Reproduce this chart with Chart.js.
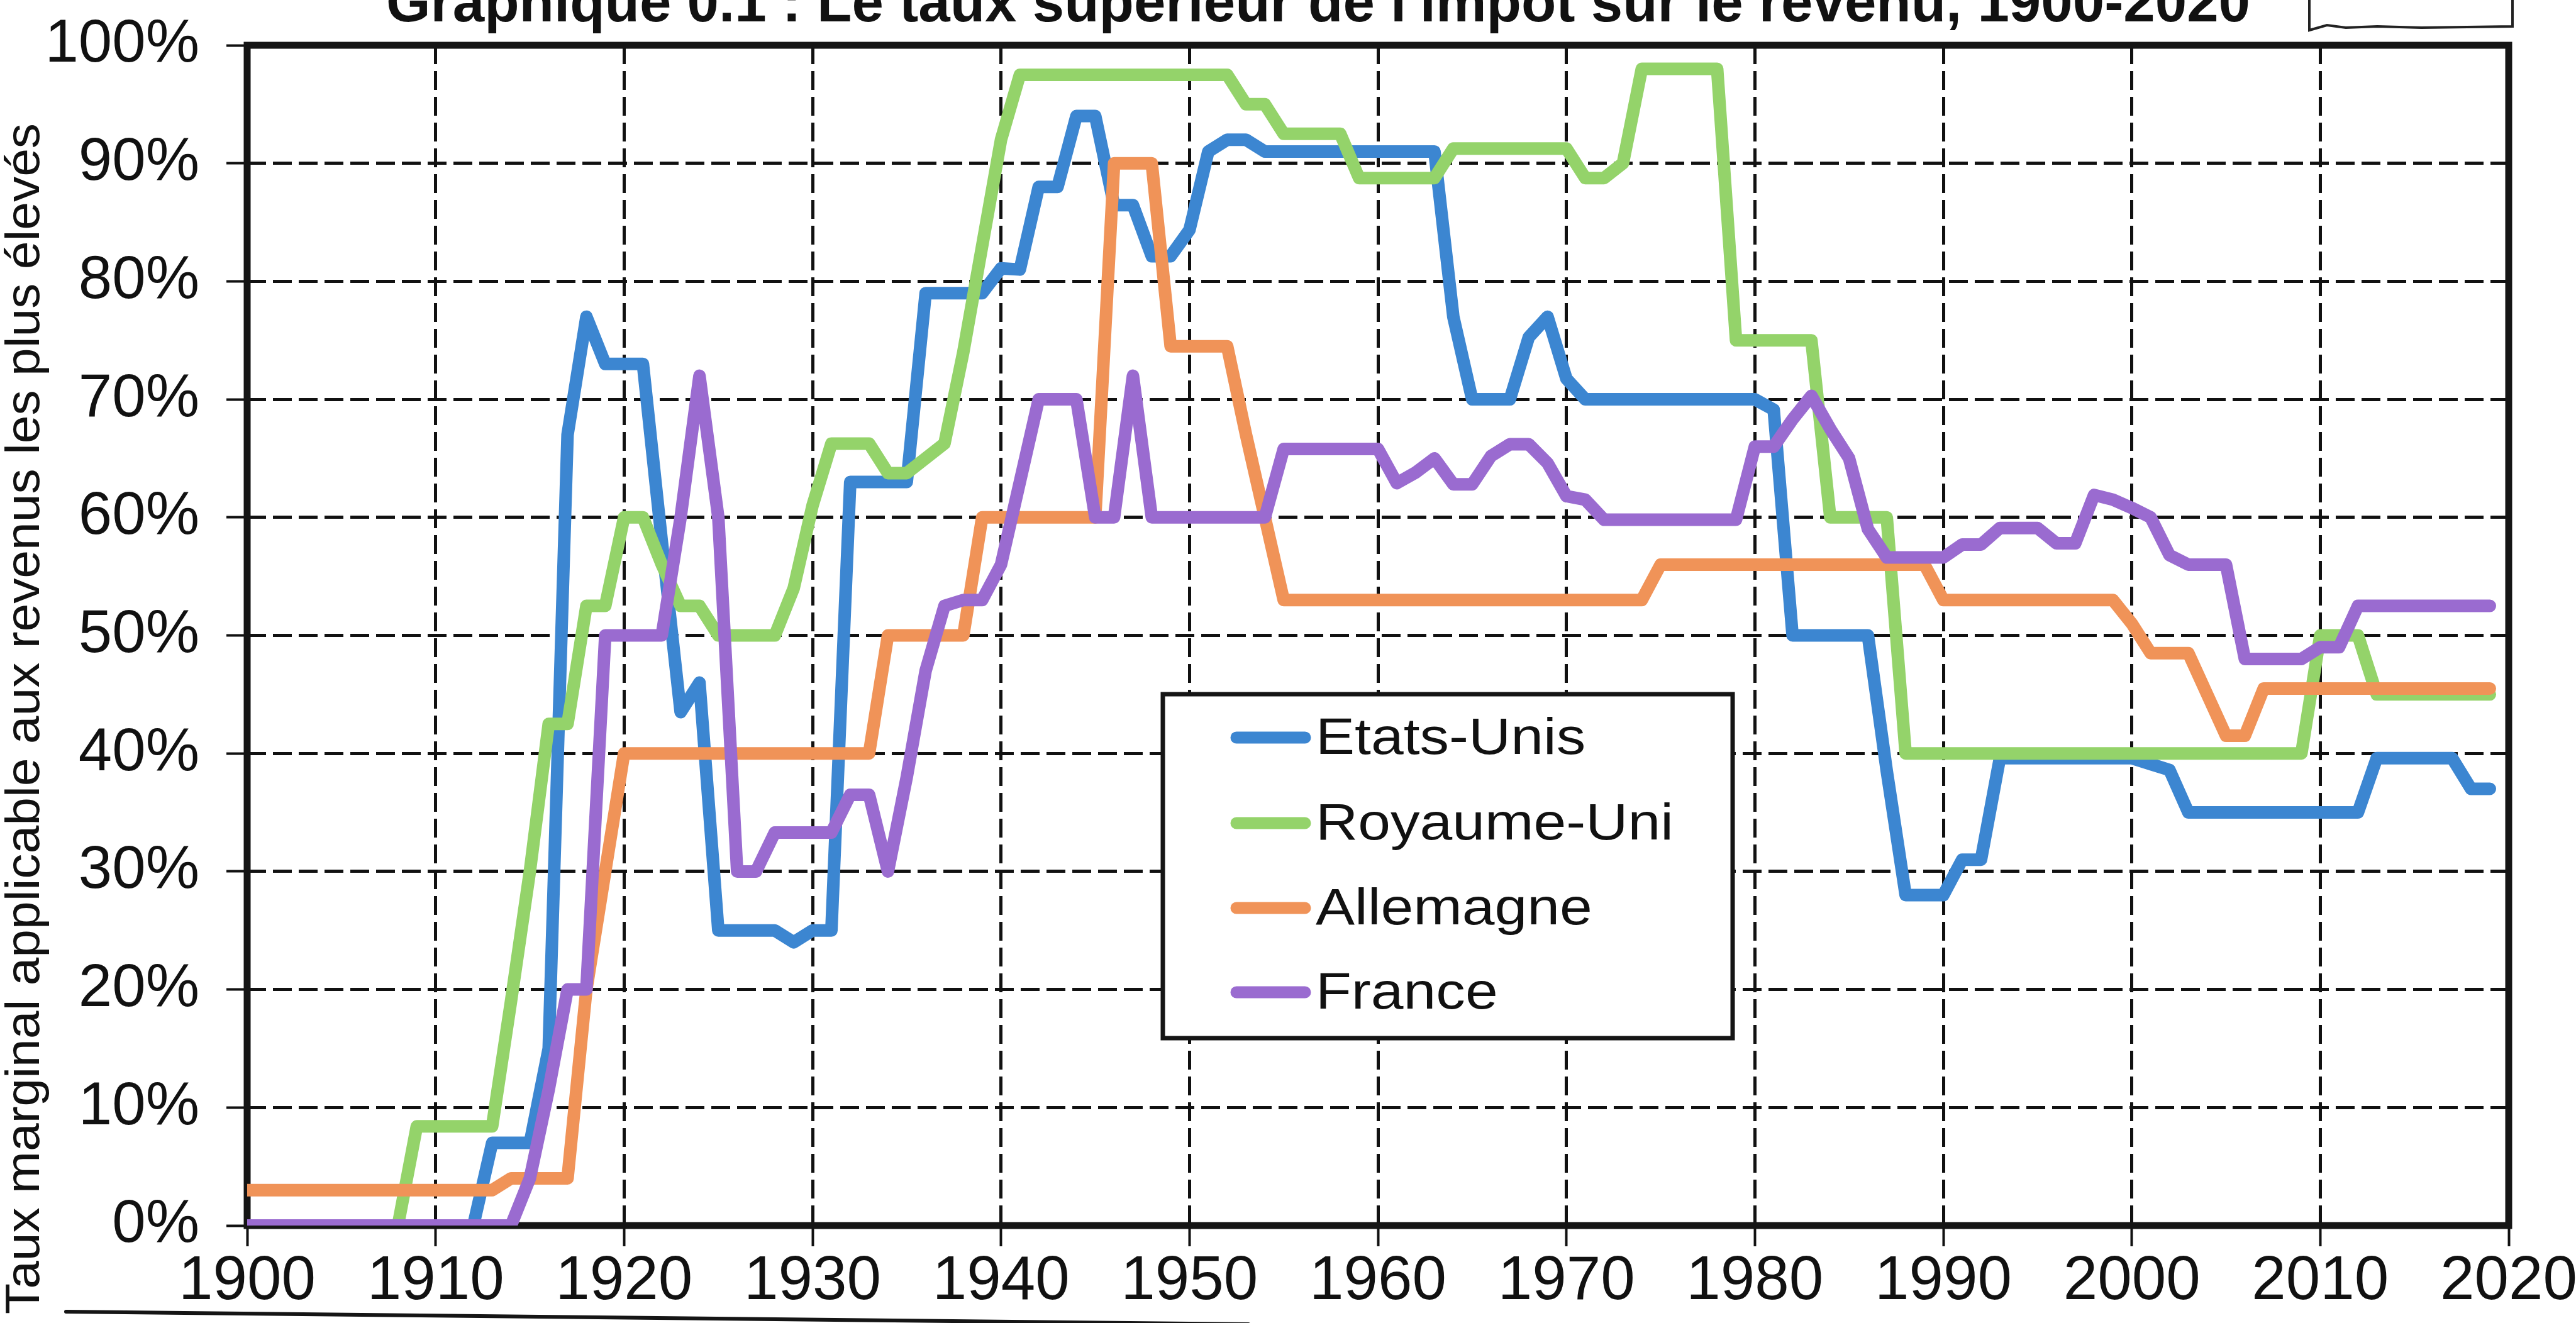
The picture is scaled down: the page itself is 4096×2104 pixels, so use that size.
<!DOCTYPE html>
<html><head><meta charset="utf-8">
<script src="https://cdn.jsdelivr.net/npm/chart.js@4.4.1/dist/chart.umd.min.js"></script>
<style>html,body{margin:0;padding:0;background:#fff;overflow:hidden}canvas{display:block}</style>
</head><body>
<canvas id="c" width="4096" height="2104"></canvas>
<script>
const titre = "Graphique 0.1 : Le taux supérieur de l'impôt sur le revenu, 1900-2020";
const titreAxeY = "Taux marginal applicable aux revenus les plus élevés";
const annees = [1900,1901,1902,1903,1904,1905,1906,1907,1908,1909,1910,1911,1912,1913,1914,1915,1916,1917,1918,1919,
1920,1921,1922,1923,1924,1925,1926,1927,1928,1929,1930,1931,1932,1933,1934,1935,1936,1937,1938,1939,
1940,1941,1942,1943,1944,1945,1946,1947,1948,1949,1950,1951,1952,1953,1954,1955,1956,1957,1958,1959,
1960,1961,1962,1963,1964,1965,1966,1967,1968,1969,1970,1971,1972,1973,1974,1975,1976,1977,1978,1979,
1980,1981,1982,1983,1984,1985,1986,1987,1988,1989,1990,1991,1992,1993,1994,1995,1996,1997,1998,1999,
2000,2001,2002,2003,2004,2005,2006,2007,2008,2009,2010,2011,2012,2013,2014,2015,2016,2017,2018,2019];
const series = ["Etats-Unis","Royaume-Uni","Allemagne","France"];
const couleurs = ["#3c86d1","#94d36a","#f09358","#9a6bd0"];
const etatsUnis = [0,0,0,0,0,0,0,0,0,0,0,0,0,
7,7,7,15,67,77,73,73,73,58,
43.5,46,25,25,25,25,24,25,25,63,
63,63,63,79,79,79,79,81.1,81,88,
88,94,94,86.45,86.45,82.13,82.13,84.36,91,92,
92,91,91,91,91,91,91,91,91,91,
91,77,70,70,70,75.25,77,71.75,70,70,
70,70,70,70,70,70,70,70,69.13,50,
50,50,50,50,38.5,28,28,28,31,31,
39.6,39.6,39.6,39.6,39.6,39.6,39.6,39.6,39.1,38.6,
35,35,35,35,35,35,35,35,35,35,
39.6,39.6,39.6,39.6,39.6,37,37];
const royaumeUni = [0,0,0,0,0,0,0,0,0,8.4,8.4,8.4,8.4,8.4,
19,30,42.5,42.5,52.5,52.5,60,60,56,52.5,
52.5,50,50,50,50,54,61,66.25,66.25,66.25,
63.75,63.75,65,66.25,74,83,92,97.5,97.5,97.5,
97.5,97.5,97.5,97.5,97.5,97.5,97.5,97.5,97.5,95,
95,92.5,92.5,92.5,92.5,88.75,88.75,88.75,88.75,88.75,
91.25,91.25,91.25,91.25,91.25,91.25,91.25,88.75,88.75,90,
98,98,98,98,98,75,75,75,75,75,
60,60,60,60,40,40,40,40,40,40,
40,40,40,40,40,40,40,40,40,40,
40,40,40,40,40,40,50,50,50,45,
45,45,45,45,45,45];
const allemagne = [3,3,3,3,3,3,3,3,3,3,3,3,3,3,
4,4,4,4,20,30,40,40,40,40,
40,40,40,40,40,40,40,40,40,40,
50,50,50,50,50,60,60,60,60,60,
60,60,90,90,90,74.5,74.5,74.5,74.5,67,
60,53,53,53,53,53,53,53,53,53,
53,53,53,53,53,53,53,53,53,53,
53,56,56,56,56,56,56,56,56,56,
56,56,56,56,56,56,53,53,53,53,
53,53,53,53,53,53,51,48.5,48.5,48.5,
45,41.5,41.5,45.5,45.5,45.5,45.5,45.5,45.5,45.5,
45.5,45.5,45.5,45.5,45.5,45.5];
const france = [0,0,0,0,0,0,0,0,0,0,0,0,0,0,
0,4,11.5,20,20,50,50,50,50,60,
72,60,30,30,33.3,33.3,33.3,33.3,36.5,36.5,
30,38,47,52.5,53,53,56,63,70,70,
70,60,60,72,60,60,60,60,60,60,
60,65.8,65.8,65.8,65.8,65.8,65.8,62.9,63.8,65,
62.8,62.8,65.2,66.2,66.2,64.6,61.8,61.5,59.8,59.8,
59.8,59.8,59.8,59.8,59.8,59.8,66,66,68.3,70.3,
67.5,65,59,56.6,56.6,56.6,56.6,57.7,57.7,59.1,
59.1,59.1,57.8,57.8,61.9,61.5,60.8,60,56.8,56,
56,56,48,48,48,48,49,49,52.5,52.5,
52.5,52.5,52.5,52.5,52.5,52.5];
const valeurs = [etatsUnis, royaumeUni, allemagne, france];

const FONT = '"Liberation Sans", Arial, sans-serif';
const AREA = {left: 393, right: 3989, top: 72, bottom: 1949};

function policeDispo(nom) {
  const c = document.createElement('canvas').getContext('2d');
  c.font = '100px monospace';
  const a = c.measureText('1900 Rabc').width;
  c.font = '100px "' + nom + '", monospace';
  const b = c.measureText('1900 Rabc').width;
  return Math.abs(a - b) > 0.5;
}
const narrowOk = policeDispo('Liberation Sans Narrow');
const X_FONT = narrowOk
  ? {family: '"Liberation Sans Narrow", "Liberation Sans", sans-serif', size: 112, lineHeight: 1}
  : {family: FONT, size: 98, lineHeight: 1};

function texteEtire(ctx, txt, x, y, font, sx, align) {
  ctx.save();
  ctx.font = font;
  ctx.textAlign = align || 'left';
  ctx.translate(x, y);
  ctx.scale(sx, 1);
  ctx.fillText(txt, 0, 0);
  ctx.restore();
}

const decor = {
  id: 'decor',
  beforeDatasetsDraw(chart) {
    const {ctx, chartArea: a} = chart;
    ctx.save();
    ctx.strokeStyle = '#151515';
    ctx.lineWidth = 11;
    ctx.strokeRect(a.left, a.top, a.right - a.left, a.bottom - a.top);
    ctx.restore();
  },
  afterDraw(chart) {
    const ctx = chart.ctx;
    ctx.save();
    ctx.fillStyle = '#111';
    // main title (its top is cut by the page edge, as in the scan)
    ctx.font = 'bold 90px ' + FONT;
    let w = ctx.measureText(titre).width;
    texteEtire(ctx, titre, 2096, 34, 'bold 90px ' + FONT, 2964 / w, 'center');
    // y axis title
    ctx.save();
    ctx.translate(62, 1143);
    ctx.rotate(-Math.PI / 2);
    ctx.font = '76px ' + FONT;
    w = ctx.measureText(titreAxeY).width;
    ctx.scale(1894 / w, 1);
    ctx.textAlign = 'center';
    ctx.textBaseline = 'alphabetic';
    ctx.fillText(titreAxeY, 0, 0);
    ctx.restore();
    // legend
    const L = {x1: 1849, y1: 1104, x2: 2755, y2: 1651};
    ctx.fillStyle = '#fff';
    ctx.fillRect(L.x1, L.y1, L.x2 - L.x1, L.y2 - L.y1);
    ctx.strokeStyle = '#151515';
    ctx.lineWidth = 7;
    ctx.strokeRect(L.x1, L.y1, L.x2 - L.x1, L.y2 - L.y1);
    const rows = [1173, 1309, 1444, 1578];
    chart.data.datasets.forEach((ds, i) => {
      const y = rows[i];
      ctx.strokeStyle = ds.borderColor;
      ctx.lineWidth = 19;
      ctx.lineCap = 'round';
      ctx.beginPath();
      ctx.moveTo(1966, y); ctx.lineTo(2075, y);
      ctx.stroke();
      ctx.fillStyle = '#111';
      ctx.textBaseline = 'middle';
      texteEtire(ctx, ds.label, 2092, y + 3, '82px ' + FONT, 1.135, 'left');
    });
    // handwritten box at top right
    ctx.strokeStyle = '#222';
    ctx.lineWidth = 4;
    ctx.lineCap = 'round';
    ctx.beginPath();
    ctx.moveTo(3672, -5); ctx.lineTo(3672, 48);
    ctx.lineTo(3700, 40); ctx.lineTo(3730, 44); ctx.lineTo(3780, 42); ctx.lineTo(3850, 44);
    ctx.lineTo(3995, 42); ctx.lineTo(3995, -5);
    ctx.stroke();
    // border of the next block, cut by the bottom of the page
    ctx.strokeStyle = '#151515';
    ctx.lineWidth = 6;
    ctx.beginPath();
    ctx.moveTo(105, 2086); ctx.lineTo(1985, 2106);
    ctx.stroke();
    ctx.restore();
  }
};

const gridCommon = {color: '#111', lineWidth: 5, tickLength: 33, tickWidth: 4, tickColor: '#111'};

new Chart(document.getElementById('c'), {
  type: 'line',
  data: {
    labels: annees,
    datasets: series.map((nom, i) => ({
      label: nom,
      data: valeurs[i],
      borderColor: couleurs[i],
      backgroundColor: couleurs[i],
      borderWidth: 20,
      pointRadius: 0,
      tension: 0,
      fill: false,
      borderCapStyle: 'round',
      borderJoinStyle: 'round',
      order: 4 - i
    }))
  },
  options: {
    responsive: false,
    animation: false,
    devicePixelRatio: 1,
    layout: {padding: {left: 0, top: AREA.top, right: 4096 - AREA.right, bottom: 0}},
    plugins: {legend: {display: false}, tooltip: {enabled: false}, title: {display: false}},
    scales: {
      x: {
        type: 'linear', min: 1900, max: 2020,
        ticks: {stepSize: 10, autoSkip: false, maxRotation: 0, padding: 8, color: '#111',
                font: X_FONT, callback: v => String(v)},
        grid: gridCommon,
        border: {display: false, dash: [30, 11]},
        afterFit: s => { s.height = 2104 - AREA.bottom; s.paddingLeft = 0; s.paddingRight = 0; }
      },
      y: {
        min: 0, max: 100,
        ticks: {stepSize: 10, padding: 43, color: '#111', font: {family: FONT, size: 96},
                callback: v => v + '%'},
        grid: gridCommon,
        border: {display: false, dash: [30, 11]},
        afterFit: s => { s.width = AREA.left; s.paddingTop = 0; s.paddingBottom = 0; }
      }
    }
  },
  plugins: [decor]
});
</script>
</body></html>
